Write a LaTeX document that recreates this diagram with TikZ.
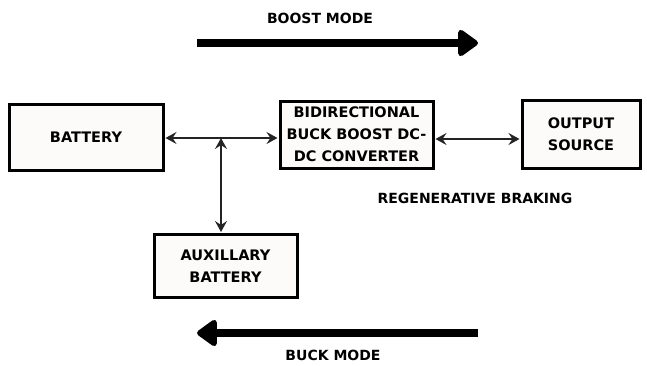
\documentclass[tikz,border=0pt]{standalone}
\usepackage{fontspec}
\setmainfont{DejaVu Sans}
\usetikzlibrary{arrows.meta}
\definecolor{boxfill}{RGB}{253,251,250}
\definecolor{ink}{RGB}{35,35,35}
\tikzset{
  blk/.style={draw=black, line width=3pt, fill=boxfill, inner sep=0pt, align=center,
    font=\fontsize{14.5}{22}\selectfont\bfseries, text=black},
  conn/.style={draw=ink, line width=2.2pt, {Stealth[length=11pt,width=12pt,inset=4pt]}-{Stealth[length=11pt,width=12pt,inset=4pt]}},
  mode/.style={draw=black, line width=8pt, -{Triangle[length=22pt,width=30pt,round]}},
  lbl/.style={font=\fontsize{14}{16}\selectfont\bfseries, text=black, inner sep=0pt}
}
\begin{document}
\begin{tikzpicture}[x=1pt,y=1pt]
\useasboundingbox (0,0) rectangle (647,365);
% boxes (y = 365 - pixel row)
\node[blk, minimum width=154pt, minimum height=66pt] (bat) at (86,228) {BATTERY};
\node[blk, minimum width=153pt, minimum height=67pt] (conv) at (356.5,230.5) {BIDIRECTIONAL\\BUCK BOOST DC-\\DC CONVERTER};
\node[blk, minimum width=118pt, minimum height=68pt] (out) at (581,231) {OUTPUT\\SOURCE};
\node[blk, minimum width=143pt, minimum height=63pt] (aux) at (225.5,99) {AUXILLARY\\BATTERY};
% connectors
\coordinate (j) at (221,227);
\draw[conn] ([xshift=1pt]bat.east |- j) -- ([xshift=-1pt]conv.west |- j);
\draw[conn] ([xshift=1pt]conv.east |- 0,226) -- ([xshift=-1pt]out.west |- 0,226);
\draw[conn] ([yshift=1pt]j |- aux.north) -- (j);
% mode arrows
\coordinate (b1) at (197,322);
\coordinate (b2) at (478,322);
\draw[mode] (b1) -- (b2);
\coordinate (k1) at (478,32);
\coordinate (k2) at (197,32);
\draw[mode] (k1) -- (k2);
% labels
\node[lbl] (boost) at (320,347) {BOOST MODE};
\node[lbl] (buck) at (333,10) {BUCK MODE};
\node[lbl] (regen) at (475,167) {REGENERATIVE BRAKING};
\end{tikzpicture}
\end{document}
